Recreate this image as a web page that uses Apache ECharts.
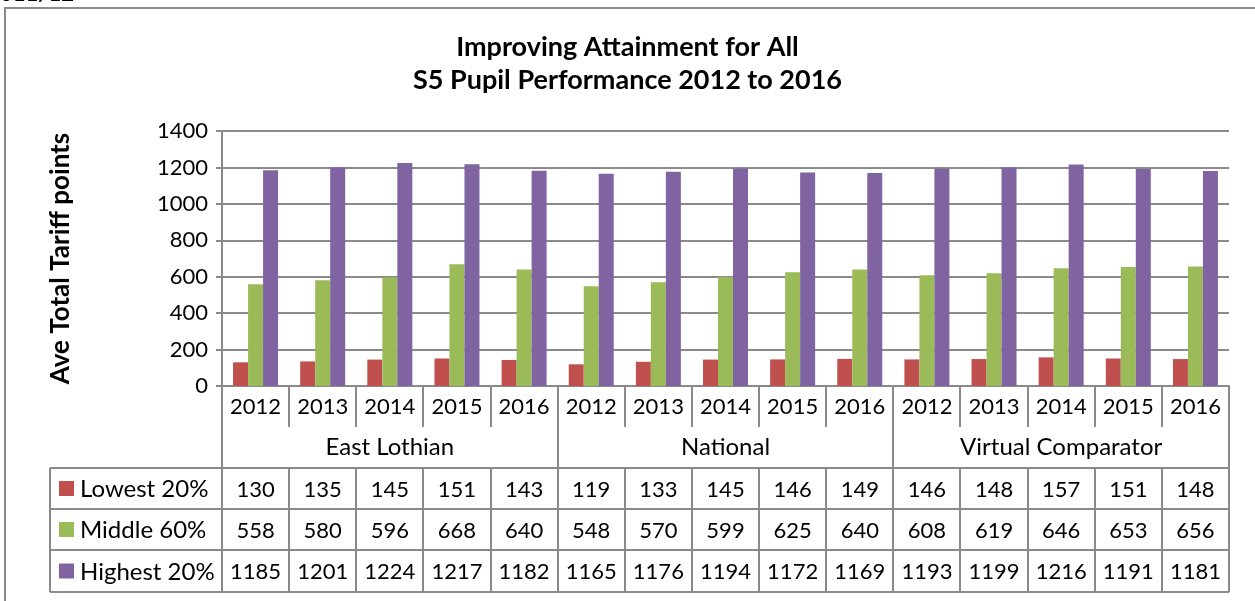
<!DOCTYPE html>
<html>
<head>
<meta charset="utf-8">
<title>S5 Pupil Performance 2012 to 2016</title>
<script src="https://cdn.jsdelivr.net/npm/echarts@6/dist/echarts.min.js"></script>
<style>
  html, body, #container { width: 100%; height: 100%; margin: 0; padding: 0; background: #fff; }
</style>
</head>
<body>
<div id="container"></div>
<script>
// data
var groups = ['East Lothian', 'National', 'Virtual Comparator'];
var years = ['2012', '2013', '2014', '2015', '2016'];
var seriesNames = ['Lowest 20%', 'Middle 60%', 'Highest 20%'];
var colors = ['#C0504D', '#9BBB59', '#8064A2'];
var lowest = [130, 135, 145, 151, 143, 119, 133, 145, 146, 149, 146, 148, 157, 151, 148];
var middle = [558, 580, 596, 668, 640, 548, 570, 599, 625, 640, 608, 619, 646, 653, 656];
var highest = [1185, 1201, 1224, 1217, 1182, 1165, 1176, 1194, 1172, 1169, 1193, 1199, 1216, 1191, 1181];
var yTicks = [0, 200, 400, 600, 800, 1000, 1200, 1400];

var categories = [];
groups.forEach(function () { years.forEach(function (y) { categories.push(y); }); });
var values = [lowest, middle, highest];

var W = 1255, H = 601;
var L = 222, R = 1229, T = 131, B = 386;
var catW = (R - L) / categories.length;
var font = 'Lato, "Open Sans", sans-serif';
var lineCol = '#8a8a8a';
var rowTop = [468, 509, 550, 592];
var tableLeft = 50;

var g = [];
function line(x1, y1, x2, y2, w) {
  g.push({ type: 'line', silent: true, shape: { x1: x1, y1: y1, x2: x2, y2: y2 },
    style: { stroke: lineCol, lineWidth: w || 2 } });
}
function text(x, y, s, opt) {
  g.push({ type: 'text', silent: true, x: x, y: y,
    style: Object.assign({ text: s, fill: '#000', font: '22px ' + font, align: 'center', verticalAlign: 'middle' }, opt || {}) });
}

// outer border and cut-off heading above it
g.push({ type: 'rect', silent: true, shape: { x: 5, y: 8, width: W + 20, height: H + 20 },
  style: { fill: null, stroke: lineCol, lineWidth: 2 } });
text(0, 5, '011/12', { align: 'left', verticalAlign: 'bottom', font: 'bold 22px ' + font });

// category tick separators under the axis
for (var i = 0; i <= categories.length; i++) {
  var x = Math.round(L + i * catW);
  var groupEdge = i % years.length === 0;
  line(x, B, x, groupEdge ? rowTop[0] : 427);
}
// group labels
groups.forEach(function (name, gi) {
  var cx = L + (gi + 0.5) * years.length * catW;
  text(cx, 447, name, { font: '24px ' + font });
});
// data table
rowTop.forEach(function (y) { line(tableLeft, y, R, y); });
line(tableLeft, rowTop[0], tableLeft, rowTop[3]);
line(R, B, R, rowTop[3]);
for (var i = 0; i <= categories.length; i++) {
  var x = Math.round(L + i * catW);
  line(x, rowTop[0], x, rowTop[3]);
}
seriesNames.forEach(function (name, si) {
  var cy = (rowTop[si] + rowTop[si + 1]) / 2 + 1;
  g.push({ type: 'rect', silent: true, shape: { x: 59, y: cy - 8.5, width: 15, height: 15 },
    style: { fill: colors[si] } });
  text(80, cy, name, { align: 'left', font: '24px ' + font });
  values[si].forEach(function (v, ci) {
    text(L + (ci + 0.5) * catW, cy, String(v));
  });
});

var chart = echarts.init(document.getElementById('container'));
chart.setOption({
  animation: false,
  title: {
    text: 'Improving Attainment for All\nS5 Pupil Performance 2012 to 2016',
    left: 'center', top: 26,
    textStyle: { fontFamily: font, fontWeight: 'bold', fontSize: 27, lineHeight: 33, color: '#000' }
  },
  grid: { left: L, right: W - R, top: T, bottom: H - B },
  xAxis: {
    type: 'category', data: categories,
    axisLine: { lineStyle: { color: lineCol, width: 2 } },
    axisTick: { show: false },
    axisLabel: { interval: 0, color: '#000', fontFamily: font, fontSize: 22, margin: 10 }
  },
  yAxis: {
    type: 'value', min: yTicks[0], max: yTicks[yTicks.length - 1], interval: 200,
    name: 'Ave Total Tariff points', nameLocation: 'middle', nameGap: 148, nameRotate: 90,
    nameTextStyle: { fontFamily: font, fontWeight: 'bold', fontSize: 26, color: '#000' },
    axisLine: { show: true, lineStyle: { color: lineCol, width: 2 } },
    axisTick: { show: true, length: 6, lineStyle: { color: lineCol, width: 2 } },
    axisLabel: { color: '#000', fontFamily: font, fontSize: 22, margin: 14,
      formatter: function (v) { return String(v); } },
    splitLine: { lineStyle: { color: lineCol, width: 2 } }
  },
  series: seriesNames.map(function (name, si) {
    return { name: name, type: 'bar', data: values[si], barWidth: 15, barGap: '0%',
      itemStyle: { color: colors[si] } };
  }),
  graphic: g
});
</script>
</body>
</html>
